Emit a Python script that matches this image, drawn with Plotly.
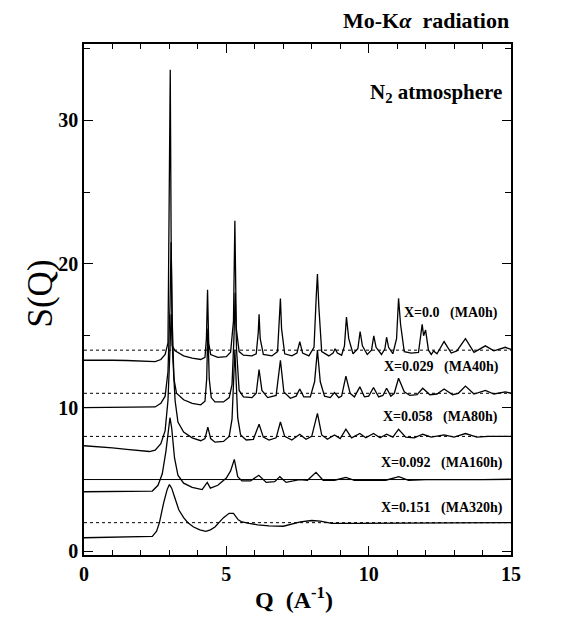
import plotly.graph_objects as go

# ---- data ----
labels = ["X=0.0\u00a0\u00a0\u00a0(MA0h)", "X=0.029\u00a0\u00a0\u00a0(MA40h)",
          "X=0.058\u00a0\u00a0\u00a0(MA80h)", "X=0.092\u00a0\u00a0\u00a0(MA160h)",
          "X=0.151\u00a0\u00a0\u00a0(MA320h)"]
baselines = [14, 11, 8, 5, 2]
label_x = [14.6, 14.65, 14.6, 14.8, 14.8]
label_y = [16.6, 12.8, 9.35, 6.15, 3.02]

q1 = [0, 0.5, 1.0, 1.5, 2.0, 2.5, 2.7, 2.85, 2.95, 3.0, 3.03, 3.06, 3.1, 3.2, 3.5, 3.8, 4.1, 4.25, 4.3, 4.34,
      4.38, 4.45, 4.7, 5.0, 5.15, 5.25, 5.3, 5.35, 5.45, 5.6, 5.9, 6.05, 6.12, 6.15, 6.19, 6.3, 6.6, 6.8, 6.87,
      6.9, 6.94, 7.05, 7.3, 7.48, 7.58, 7.68, 7.9, 8.08, 8.16, 8.2, 8.25, 8.35, 8.6, 8.75, 8.82, 8.9, 9.05,
      9.15, 9.22, 9.3, 9.45, 9.62, 9.7, 9.78, 9.95, 10.1, 10.18, 10.26, 10.45, 10.57, 10.63, 10.7, 10.85,
      10.98, 11.05, 11.12, 11.25, 11.5, 11.75, 11.88, 11.93, 12.0, 12.1, 12.2, 12.28, 12.4, 12.65, 12.9,
      13.1, 13.4, 13.7, 14.1, 14.4, 14.8, 15.0]
s1 = [13.3, 13.32, 13.3, 13.28, 13.25, 13.2, 13.35, 13.7, 14.5, 24.0, 33.5, 22.0, 14.3, 13.95, 13.6, 13.45,
      13.35, 13.5, 14.8, 18.2, 14.5, 13.7, 13.5, 13.55, 13.85, 16.0, 23.0, 15.5, 13.9, 13.65, 13.6, 13.75,
      15.2, 16.5, 14.8, 13.7, 13.6, 13.9, 16.2, 17.6, 15.5, 13.75, 13.6, 13.8, 14.6, 13.8, 13.6, 14.2, 17.8,
      19.3, 17.0, 13.9, 13.6, 13.8, 14.1, 13.8, 13.65, 14.3, 16.3, 14.8, 13.75, 14.1, 15.3, 14.3, 13.7, 14.0,
      15.0, 14.2, 13.7, 14.1, 14.9, 14.2, 13.75, 14.8, 17.6, 15.8, 13.9, 13.8, 13.85, 15.8, 15.0, 15.4, 14.0,
      13.7, 13.95, 13.75, 14.6, 13.8, 13.95, 14.8, 13.85, 14.3, 13.95, 14.2, 14.05]

q2 = [0, 1.0, 2.0, 2.5, 2.7, 2.85, 2.95, 3.02, 3.06, 3.1, 3.16, 3.25, 3.5, 3.8, 4.1, 4.25, 4.31, 4.35, 4.4,
      4.47, 4.6, 4.9, 5.1, 5.2, 5.27, 5.31, 5.36, 5.45, 5.6, 5.9, 6.05, 6.15, 6.25, 6.45, 6.75, 6.9, 7.02,
      7.25, 7.45, 7.58, 7.72, 7.95, 8.1, 8.2, 8.3, 8.45, 8.65, 8.8, 8.95, 9.05, 9.2, 9.35, 9.5, 9.69, 9.85,
      10.0, 10.17, 10.35, 10.5, 10.63, 10.78, 10.9, 11.05, 11.25, 11.45, 11.7, 11.9, 12.15, 12.4, 12.65,
      12.95, 13.15, 13.4, 13.7, 14.1, 14.4, 14.8, 15.0]
s2 = [10.0, 10.0, 10.0, 10.05, 10.3, 10.8, 12.5, 17.0, 21.5, 16.0, 12.0, 11.0, 10.55, 10.3, 10.2, 10.45,
      12.0, 15.5, 12.0, 10.7, 10.4, 10.4, 10.7, 11.6, 15.0, 18.0, 14.0, 11.2, 10.75, 10.7, 11.0, 12.65, 11.2,
      10.7, 10.85, 13.3, 11.1, 10.65, 10.8, 11.3, 10.75, 10.75, 11.8, 14.0, 11.8, 10.8, 10.7, 11.05, 10.7,
      10.8, 12.2, 11.0, 10.75, 11.45, 10.75, 10.8, 11.4, 10.75, 10.85, 11.35, 10.8, 11.0, 12.05, 11.1, 10.85,
      10.9, 11.35, 10.9, 10.95, 11.3, 10.9, 11.0, 11.5, 10.95, 11.2, 10.95, 11.1, 11.0]

q3 = [0, 0.5, 1.0, 1.5, 2.0, 2.3, 2.5, 2.7, 2.85, 2.95, 3.02, 3.06, 3.12, 3.2, 3.3, 3.5, 3.8, 4.1, 4.25,
      4.35, 4.45, 4.6, 4.9, 5.1, 5.2, 5.3, 5.4, 5.5, 5.7, 5.95, 6.15, 6.3, 6.5, 6.75, 6.9, 7.05, 7.3, 7.58,
      7.8, 8.0, 8.2, 8.35, 8.55, 8.8, 9.0, 9.2, 9.4, 9.69, 9.9, 10.17, 10.4, 10.63, 10.85, 11.05, 11.3, 11.6,
      11.9, 12.2, 12.65, 13.0, 13.4, 13.8, 14.2, 15.0]
s3 = [7.35, 7.3, 7.2, 7.1, 7.0, 6.95, 7.05, 7.5, 8.4, 10.5, 14.0, 16.5, 13.5, 10.5, 9.0, 8.3, 7.9, 7.7,
      7.85, 8.65, 7.85, 7.6, 7.65, 8.0, 9.2, 14.0, 9.3, 8.1, 7.75, 7.8, 8.85, 7.95, 7.75, 7.9, 9.0, 8.0,
      7.75, 8.15, 7.8, 8.0, 9.6, 8.1, 7.8, 8.1, 7.85, 8.5, 7.9, 8.2, 7.9, 8.2, 7.9, 8.15, 7.95, 8.5, 7.95,
      7.9, 8.15, 7.95, 8.1, 7.95, 8.2, 7.95, 8.0, 8.0]

q4 = [0, 1.0, 2.0, 2.4, 2.6, 2.75, 2.88, 2.97, 3.02, 3.08, 3.18, 3.3, 3.5, 3.8, 4.15, 4.33, 4.44, 4.7, 5.0,
      5.15, 5.28, 5.4, 5.55, 5.85, 6.14, 6.4, 6.7, 6.88, 7.1, 7.35, 7.57, 7.85, 8.15, 8.4, 8.8, 9.2, 9.5,
      10.0, 10.6, 11.06, 11.4, 12.0, 13.0, 14.0, 15.0]
s4 = [4.15, 4.15, 4.15, 4.2, 4.6, 5.4, 7.0, 8.8, 9.3, 8.6, 6.5, 5.3, 4.75, 4.45, 4.3, 4.8, 4.4, 4.6, 5.1,
      5.6, 6.4, 5.2, 4.9, 4.9, 5.3, 4.8, 4.85, 5.2, 4.8, 4.9, 5.0, 4.95, 5.5, 4.95, 4.95, 5.15, 4.95, 4.95,
      4.95, 5.2, 4.95, 5.0, 4.98, 5.0, 5.02]

q5 = [0, 1.0, 2.0, 2.4, 2.55, 2.65, 2.8, 2.92, 3.0, 3.08, 3.17, 3.33, 3.5, 3.65, 3.85, 4.07, 4.28, 4.44,
      4.6, 4.75, 4.9, 5.1, 5.25, 5.42, 5.55, 5.8, 6.1, 6.5, 7.0, 7.6, 8.0, 8.3, 8.7, 9.5, 11.0, 13.0, 15.0]
s5 = [0.95, 0.97, 1.0, 1.05, 1.4, 2.0, 3.4, 4.3, 4.65, 4.4, 3.85, 2.9, 2.35, 2.0, 1.7, 1.5, 1.4, 1.5, 1.7,
      2.0, 2.35, 2.65, 2.65, 2.2, 2.05, 1.95, 1.85, 1.78, 1.75, 2.05, 2.15, 2.1, 1.95, 1.95, 1.98, 1.98, 2.0]

curves = [(q1, s1), (q2, s2), (q3, s3), (q4, s4), (q5, s5)]

fig = go.Figure()
for b in baselines:
    fig.add_trace(go.Scatter(x=[0, 15], y=[b, b], mode="lines", showlegend=False,
                             line=dict(color="black", width=1, dash="solid" if b == 5 else "dot")))
for q, s in curves:
    fig.add_trace(go.Scatter(x=q, y=s, mode="lines", showlegend=False,
                             line=dict(color="black", width=1.3)))

serif = "Liberation Serif"
for lab, lx, ly in zip(labels, label_x, label_y):
    fig.add_annotation(x=lx, y=ly, xref="x", yref="y", text=lab, showarrow=False,
                       xanchor="right", yanchor="middle",
                       font=dict(family=serif, size=14, color="black", weight="bold"))

fig.add_annotation(x=1.0, y=1, xref="paper", yref="paper", yshift=24, text="Mo-K<i>α</i>  radiation",
                   showarrow=False, xanchor="right", yanchor="middle",
                   font=dict(family=serif, size=22, color="black", weight="bold"))
fig.add_annotation(x=14.75, y=31.9, xref="x", yref="y", text="N<sub>2</sub> atmosphere",
                   showarrow=False, xanchor="right", yanchor="middle",
                   font=dict(family=serif, size=21, color="black", weight="bold"))
fig.add_annotation(x=0.5, y=0, xref="paper", yref="paper", yshift=-43, xshift=-4,
                   text="Q  (A<sup>-1</sup>)", showarrow=False, xanchor="center", yanchor="middle",
                   font=dict(family=serif, size=24, color="black", weight="bold"))
fig.add_annotation(x=0, y=0.5, xref="paper", yref="paper", xshift=-44, yshift=6,
                   text="S(Q)", showarrow=False, textangle=-90, xanchor="center", yanchor="middle",
                   font=dict(family=serif, size=35, color="black"))

axis_common = dict(showline=True, linecolor="black", linewidth=1.5, mirror="allticks",
                   ticks="inside", tickcolor="black", tickwidth=1.2, showgrid=False, zeroline=False,
                   automargin=False,
                   tickfont=dict(family=serif, size=20, color="black", weight="bold"))
fig.update_xaxes(range=[0, 15], tickvals=[0, 5, 10, 15], ticklen=9,
                 minor=dict(dtick=1, ticks="inside", ticklen=5, tickcolor="black", tickwidth=1),
                 **axis_common)
fig.update_yaxes(range=[-0.25, 35.3], tickvals=[0, 10, 20, 30], ticklen=9,
                 minor=dict(dtick=5, ticks="inside", ticklen=6, tickcolor="black", tickwidth=1),
                 **axis_common)
fig.update_layout(width=581, height=621, margin=dict(l=76, r=78, t=36, b=74),
                  plot_bgcolor="white", paper_bgcolor="white")
fig.write_html("out.html")
